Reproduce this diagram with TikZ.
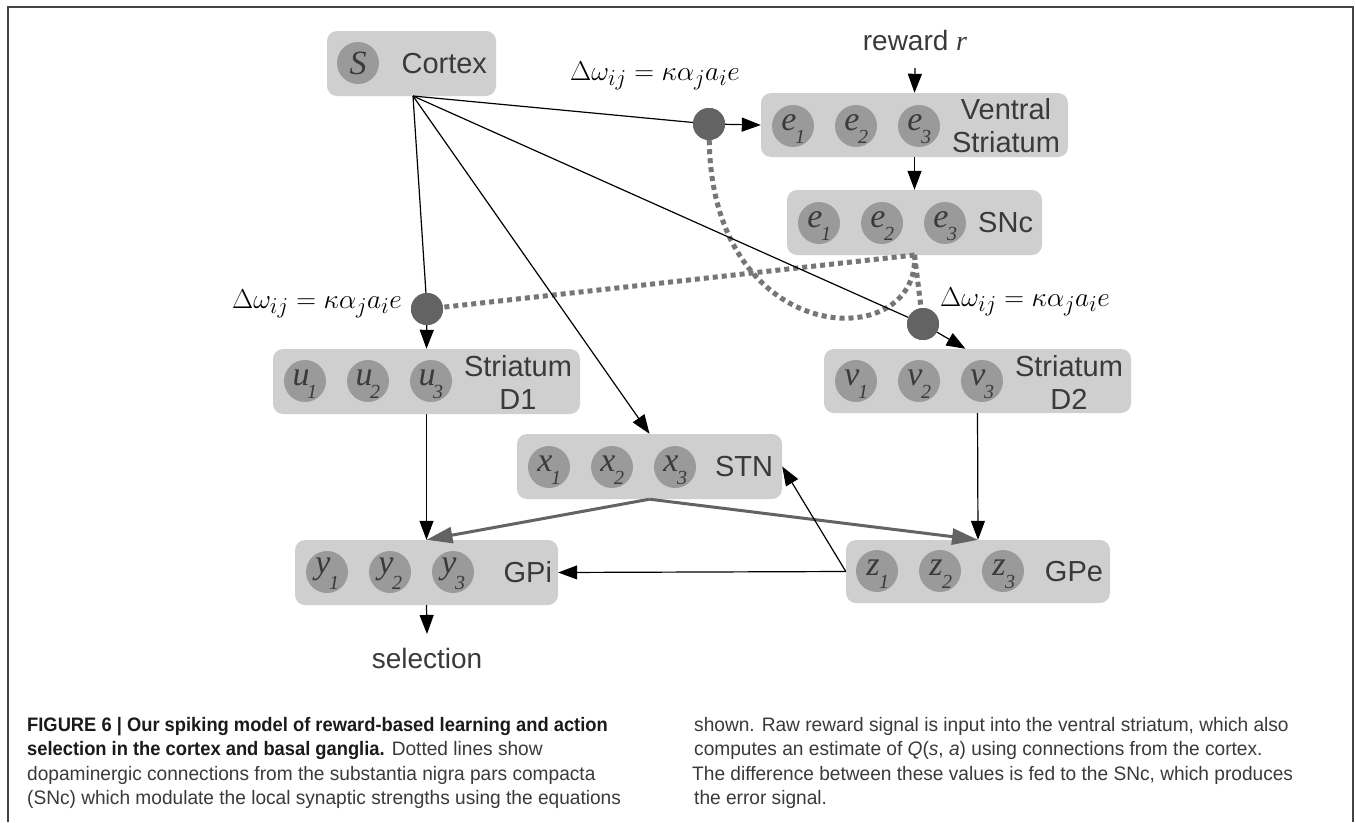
\documentclass[tikz,border=0pt]{standalone}
\usepackage{graphicx}
\usepackage{fontspec}
\setmainfont{Liberation Sans}
\newfontfamily\cellfont{Liberation Serif}
\newfontfamily\capfont[FakeStretch=0.98]{Liberation Sans}
\newfontfamily\capfontb[FakeStretch=0.94]{Liberation Sans}
\usetikzlibrary{arrows.meta,calc}
\definecolor{boxgray}{HTML}{CFCFCF}
\definecolor{circgray}{HTML}{9A9A9A}
\definecolor{dotgray}{HTML}{636363}
\definecolor{dopgray}{HTML}{767676}
\definecolor{txtgray}{HTML}{3A3A3A}
\definecolor{capblack}{HTML}{1A1A1A}
\definecolor{framegray}{HTML}{444444}
\newcommand\cellnode[4]{%
  \node[cellc] (#1) at #2 {};
  \node[celltxt] (#1-l) at ($(#1)+(-4,-3)$) {#3};
  \node[subtxt] (#1-s) at ($(#1)+(7,11)$) {#4};
}
\newcommand\threecells[4]{%
  \foreach \k in {1,2,3}{\cellnode{#1\k}{(#2+63*\k-63,#3)}{#4}{\k}}%
}
\newcommand\dwformula{\scalebox{1.1}{$\Delta\omega_{ij} = \kappa\alpha_j a_i e$}}
\begin{document}
\begin{tikzpicture}[x=1pt,y=-1pt,
  regbox/.style={fill=boxgray, rounded corners=10pt, inner sep=0pt, draw=none},
  cellc/.style={circle, fill=circgray, minimum size=42pt, inner sep=0pt},
  celltxt/.style={font=\cellfont\itshape\fontsize{34}{34}\selectfont, text=txtgray, inner sep=0pt},
  subtxt/.style={font=\cellfont\itshape\fontsize{20}{20}\selectfont, text=txtgray, inner sep=0pt},
  lbl/.style={font=\fontsize{29}{33}\selectfont, text=txtgray, align=center, inner sep=0pt, anchor=east},
  lbltwo/.style={font=\fontsize{28}{32}\selectfont, text=txtgray, inner sep=0pt},
  syn/.style={circle, fill=dotgray, minimum size=32pt, inner sep=0pt},
  thinline/.style={line width=1.2pt, black},
  arr/.style={thinline, -{Triangle[length=19pt,width=14pt]}},
  garr/.style={line width=3pt, dotgray, -{Triangle[length=26pt,width=16pt]}},
  dop/.style={line width=5pt, dopgray, dash pattern=on 5pt off 4pt},
  fml/.style={font=\fontsize{28}{30}\selectfont, inner sep=0pt, text=black},
  captxt/.style={font=\capfont\fontsize{19.5}{23}\selectfont, text=txtgray, inner sep=0pt, anchor=base west}
]
\useasboundingbox (0,0) rectangle (1356,822);
\fill[white] (0,0) rectangle (1356,822);
\draw[framegray, line width=1.6pt] (8,822) -- (8,7) -- (1353,7) -- (1353,822);

% boxes
\node[regbox, minimum width=169pt, minimum height=65pt] (cortex) at (411.5,63.5) {};
\node[regbox, minimum width=307pt, minimum height=64pt] (vs) at (914.5,125) {};
\node[regbox, minimum width=255pt, minimum height=65pt] (snc) at (914.5,222.5) {};
\node[regbox, minimum width=307pt, minimum height=65pt] (d1) at (426.5,381.5) {};
\node[regbox, minimum width=307pt, minimum height=64pt] (d2) at (977.5,381) {};
\node[regbox, minimum width=265pt, minimum height=65pt] (stn) at (649.5,466.5) {};
\node[regbox, minimum width=263pt, minimum height=65pt] (gpi) at (426.5,572.5) {};
\node[regbox, minimum width=264pt, minimum height=63pt] (gpe) at (978,571.5) {};

% cells
\node[cellc] (cs) at (358,63) {};
\node[celltxt] (cs-l) at (cs) {S};
\threecells{ve}{793}{126}{e}
\threecells{se}{819}{223}{e}
\threecells{u}{305}{381}{u}
\threecells{v}{856}{381}{v}
\threecells{x}{549}{467}{x}
\threecells{y}{327}{572}{y}
\threecells{z}{877}{571}{z}

% labels
\node[lbl] (cortex-l) at ($(cortex.east)+(-9,0)$) {Cortex};
\node[lbl] (vs-l) at ($(vs.east)+(-8,1)$) {Ventral\\Striatum};
\node[lbl] (snc-l) at ($(snc.east)+(-9,0)$) {SNc};
\node[lbl] (d1-l) at ($(d1.east)+(-8,1)$) {Striatum\\D1};
\node[lbl] (d2-l) at ($(d2.east)+(-8,1)$) {Striatum\\D2};
\node[lbl] (stn-l) at ($(stn.east)+(-9,0)$) {STN};
\node[lbl] (gpi-l) at ($(gpi.east)+(-6,0)$) {GPi};
\node[lbl] (gpe-l) at ($(gpe.east)+(-7,0)$) {GPe};
\node[lbltwo] (reward) at (915,40) {reward {\cellfont\itshape r}};
\node[lbltwo] (sel) at (427,658) {selection};

% formulas
\node[fml, anchor=east] (f1) at (740,76) {\dwformula};
\node[fml, anchor=east] (f2) at (402,304) {\dwformula};
\node[fml, anchor=west] (f3) at (940,302) {\dwformula};

% synapse dots (positions)
\coordinate (pvs) at (709,124);
\coordinate (pd1) at (427,309);
\coordinate (pd2) at (923,324);
\coordinate (cx) at (413,96);
\coordinate (sncb) at (914.5,255);
\coordinate (rwt) at (915,68);
\coordinate (selt) at (427,634);
\node[syn] (dotvs) at (pvs) {};
\node[syn] (dotd1) at (pd1) {};
\node[syn] (dotd2) at (pd2) {};

% dopaminergic dotted lines
\draw[dop] (sncb) -- (dotd1);
\draw[dop] (sncb) -- (dotd2);
\draw[dop] (dotvs) .. controls (712,350) and (920,355) .. (sncb);

% cortical fan
\draw[thinline] (cx) -- (dotvs);
\draw[thinline] (cx) -- (dotd1);
\draw[thinline] (cx) -- (dotd2);
\draw[arr] (cx) -- (stn.north);
\draw[arr] (dotvs) -- (vs.west);
\draw[arr] (dotd1) -- (d1.north);
\draw[arr] (dotd2) -- ($(d2.north)+(-12,0)$);

% other connections
\draw[arr] (rwt) -- (vs.north);
\draw[arr] (vs.south) -- (snc.north);
\draw[arr] (d1.south) -- (gpi.north);
\draw[arr] (d2.south) -- (gpe.north);
\draw[garr] (stn.south) -- (gpi.north);
\draw[garr] (stn.south) -- (gpe.north);
\draw[arr] (gpe.west) -- (gpi.east);
\draw[arr] (gpe.west) -- (stn.east);
\draw[arr] (gpi.south) -- (selt);

% redraw dots on top
\node[syn] (dotvs2) at (pvs) {};
\node[syn] (dotd12) at (pd1) {};
\node[syn] (dotd22) at (pd2) {};

% caption
\node[captxt] (c1) at (27,731) {{\capfontb\bfseries\color{capblack}FIGURE 6 | Our spiking model of reward-based learning and action}};
\node[captxt] (c2) at (27,755.5) {{\capfontb\bfseries\color{capblack}selection in the cortex and basal ganglia.} Dotted lines show};
\node[captxt] (c3) at (27,780) {dopaminergic connections from the substantia nigra pars compacta};
\node[captxt] (c4) at (27,804) {(SNc) which modulate the local synaptic strengths using the equations};
\node[captxt] (c5) at (694,731) {shown. Raw reward signal is input into the ventral striatum, which also};
\node[captxt] (c6) at (694,755.5) {computes an estimate of \textit{Q}(\textit{s}, \textit{a}) using connections from the cortex.};
\node[captxt] (c7) at (692,780) {The difference between these values is fed to the SNc, which produces};
\node[captxt] (c8) at (694,804) {the error signal.};
\end{tikzpicture}
\end{document}
